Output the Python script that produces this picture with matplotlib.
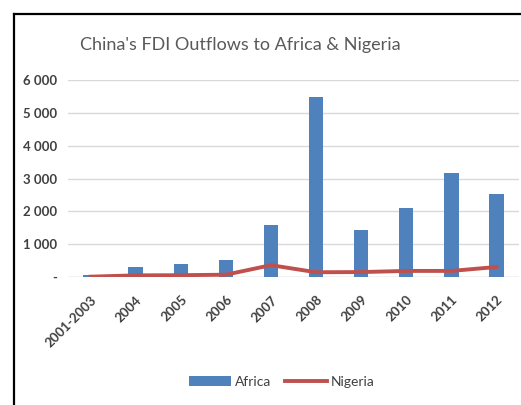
import numpy as np
import matplotlib
matplotlib.use("Agg")
import matplotlib.pyplot as plt
from matplotlib.lines import Line2D

plt.rcParams['font.family'] = ['Lato', 'DejaVu Sans']

years = ["2001-2003", "2004", "2005", "2006", "2007", "2008", "2009", "2010", "2011", "2012"]
africa = [75, 317, 392, 520, 1574, 5491, 1439, 2112, 3173, 2517]
nigeria = [10, 50, 55, 70, 360, 145, 150, 185, 185, 305]
yticks = [0, 1000, 2000, 3000, 4000, 5000, 6000]
ylabels = ["-", "1 000", "2 000", "3 000", "4 000", "5 000", "6 000"]

fig = plt.figure(figsize=(5.21, 4.05), dpi=100)
ax = fig.add_axes([68 / 521, 1 - 277 / 405, 451 / 521, (277 - 80) / 405])

x = np.arange(len(years))
bars = ax.bar(x, africa, 0.32, color="#4f81bd", label="Africa", zorder=2)
line, = ax.plot(x, nigeria, color="#c0504d", lw=2.8, label="Nigeria", zorder=3)

ax.set_xlim(-0.5, len(years) - 0.5)
ax.set_ylim(0, 6000)
ax.set_yticks(yticks)
ax.set_yticklabels(ylabels)
ax.set_xticks(x)
ax.set_xticklabels(years, rotation=45, ha="right", rotation_mode="anchor")
for lab in ax.get_xticklabels() + ax.get_yticklabels():
    lab.set_fontweight("bold")
    lab.set_color("#404040")
    lab.set_fontsize(9.5)
ax.tick_params(length=0, pad=8)
ax.tick_params(axis="x", pad=12)
ax.grid(axis="y", color="#d9d9d9", lw=1, zorder=0)
for s in ax.spines.values():
    s.set_visible(False)
ax.axhline(0, color="#d9d9d9", lw=1, zorder=1)

fig.text(80 / 521, 1 - 45 / 405, "China's FDI Outflows to Africa & Nigeria",
         fontsize=13, color="#595959", va="center")

fig.legend([bars, line], ["Africa", "Nigeria"], loc="center",
           bbox_to_anchor=(282 / 521, 1 - 382 / 405), ncol=2,
           frameon=False, fontsize=10, handlelength=3, columnspacing=1.0,
           handletextpad=0.3, labelcolor="#404040")

# frame border (top and left)
fig.add_artist(Line2D([14 / 521, 14 / 521], [0, 1 - 14 / 405], color="black", lw=1.6,
                      transform=fig.transFigure))
fig.add_artist(Line2D([14 / 521, 1], [1 - 14 / 405, 1 - 14 / 405], color="black", lw=1.6,
                      transform=fig.transFigure))

fig.savefig("out.png", dpi=100)
